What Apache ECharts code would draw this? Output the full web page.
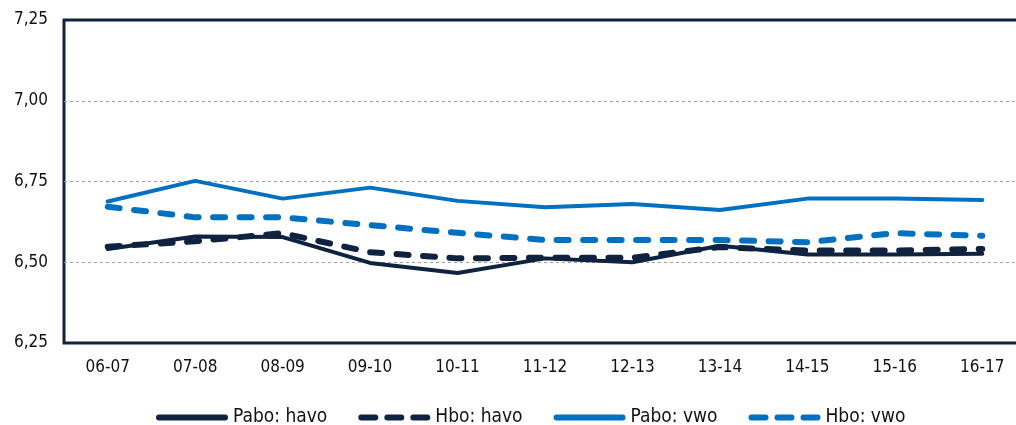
<!DOCTYPE html>
<html>
<head>
<meta charset="utf-8">
<script src="https://cdn.jsdelivr.net/npm/echarts@6/dist/echarts.min.js"></script>
<style>
    html, body { margin: 0; padding: 0; background: #fff; }
    #chart { width: 1016px; height: 425px; }
</style>
</head>
<body>
<div id="chart"></div>
<script>
    const categories = ['06-07', '07-08', '08-09', '09-10', '10-11', '11-12', '12-13', '13-14', '14-15', '15-16', '16-17'];
    const paboHavo = [6.541, 6.580, 6.578, 6.498, 6.467, 6.512, 6.500, 6.551, 6.524, 6.524, 6.526];
    const hboHavo = [6.548, 6.565, 6.590, 6.531, 6.512, 6.514, 6.514, 6.547, 6.536, 6.536, 6.541];
    const paboVwo = [6.688, 6.752, 6.697, 6.731, 6.690, 6.670, 6.680, 6.662, 6.697, 6.697, 6.693];
    const hboVwo = [6.672, 6.639, 6.639, 6.615, 6.591, 6.569, 6.569, 6.569, 6.562, 6.590, 6.582];

    const navy = '#0f2340';
    const blue = '#0070c0';
    const font = 'DejaVu Sans Condensed';

    // legend icons: a thick bar for solid lines, three rounded dashes for dashed ones
    const solidIcon = 'path://M3,0 H69 A3,3 0 0 1 69,6 H3 A3,3 0 0 1 3,0 Z';
    const dashIcon = 'path://M3,0 H17 A3,3 0 0 1 17,6 H3 A3,3 0 0 1 3,0 Z'
        + ' M29,0 H43 A3,3 0 0 1 43,6 H29 A3,3 0 0 1 29,0 Z'
        + ' M55,0 H69 A3,3 0 0 1 69,6 H55 A3,3 0 0 1 55,0 Z';

    let chart = echarts.init(document.getElementById('chart'), null, { renderer: 'canvas' });

    function solid(name, data, color) {
        return {
            name: name,
            type: 'line',
            data: data,
            symbol: 'none',
            lineStyle: { color: color, width: 4, cap: 'round', join: 'round' },
            itemStyle: { color: color }
        };
    }
    function dashed(name, data, color) {
        return {
            name: name,
            type: 'line',
            data: data,
            symbol: 'none',
            lineStyle: { color: color, width: 6, type: [12, 14.5], cap: 'round', join: 'round' },
            itemStyle: { color: color }
        };
    }

    let option = {
        animation: false,
        grid: {
            left: 64,
            width: 962,
            top: 20,
            height: 323,
            outerBoundsMode: 'none',
            show: true,
            borderColor: navy,
            borderWidth: 3
        },
        legend: {
            left: 151,
            top: 403,
            itemWidth: 72,
            itemHeight: 6,
            itemGap: 31,
            itemStyle: { borderWidth: 0 },
            textStyle: { fontFamily: font, fontSize: 19, color: '#111' },
            data: [
                { name: 'Pabo: havo', icon: solidIcon },
                { name: 'Hbo: havo', icon: dashIcon },
                { name: 'Pabo: vwo', icon: solidIcon },
                { name: 'Hbo: vwo', icon: dashIcon }
            ]
        },
        xAxis: {
            type: 'category',
            data: categories,
            boundaryGap: true,
            axisLine: { show: false },
            axisTick: { show: false },
            axisLabel: { fontFamily: font, fontSize: 17, color: '#111', margin: 16 }
        },
        yAxis: {
            type: 'value',
            min: 6.25,
            max: 7.25,
            interval: 0.25,
            axisLine: { show: false },
            axisTick: { show: false },
            axisLabel: {
                fontFamily: font, fontSize: 17, color: '#111', margin: 16,
                formatter: v => v.toFixed(2).replace('.', ',')
            },
            splitLine: {
                showMinLine: false,
                showMaxLine: false,
                lineStyle: { color: '#a0a0a0', width: 1, type: [3, 3] }
            }
        },
        series: [
            solid('Pabo: havo', paboHavo, navy),
            dashed('Hbo: havo', hboHavo, navy),
            solid('Pabo: vwo', paboVwo, blue),
            dashed('Hbo: vwo', hboVwo, blue)
        ]
    };
    chart.setOption(option);
</script>
</body>
</html>
